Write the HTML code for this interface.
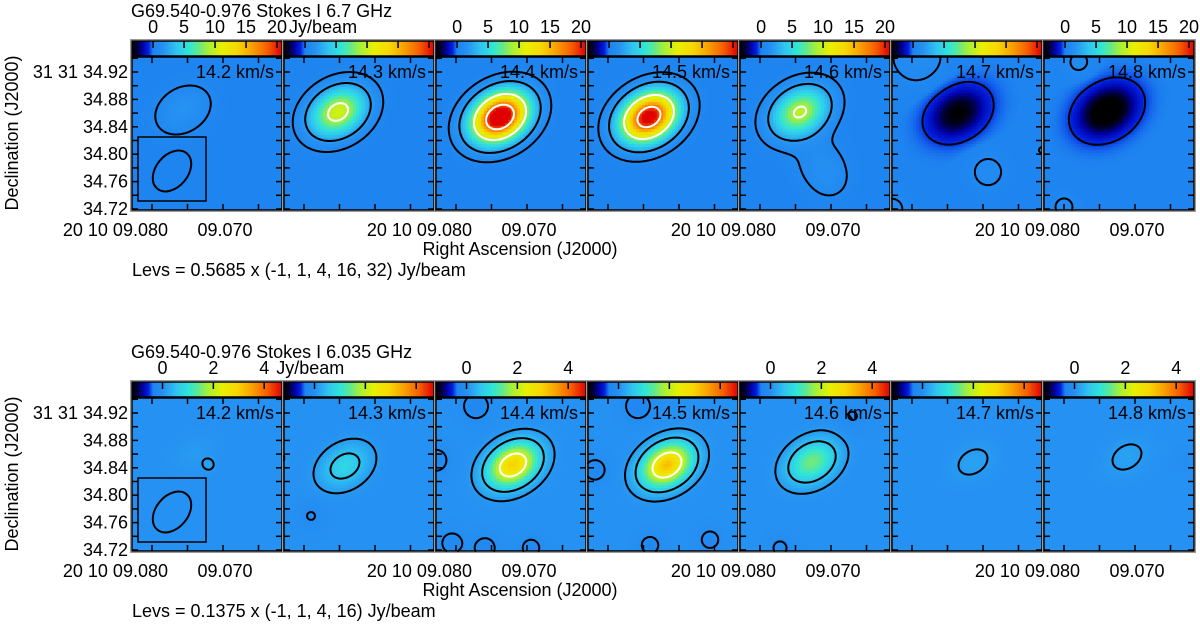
<!DOCTYPE html>
<html><head><meta charset="utf-8">
<style>
html,body{margin:0;padding:0;background:#fff;}
#wrap{position:relative;width:1200px;height:624px;overflow:hidden;}
canvas,svg{position:absolute;left:0;top:0;}
text{font-family:"Liberation Sans",Arial,sans-serif;fill:#000;}
</style></head>
<body>
<div id="wrap">
<canvas id="cv" width="1200" height="624"></canvas>
<svg id="sv" width="1200" height="624" xmlns="http://www.w3.org/2000/svg"></svg>
</div>
<script>
// ---------- data ----------
const velocities = ["14.2","14.3","14.4","14.5","14.6","14.7","14.8"];
// top row (6.7 GHz) main component: peak Jy/beam, RA seconds, Dec arcsec
const topPeak = [1.7, 10.5, 24, 22, 9.6, -3.5, -4.5];
const topRA   = [9.07563, 9.07521, 9.07380, 9.07423, 9.07437, 9.07352, 9.07394];
const topDec  = [34.8645, 34.8616, 34.8543, 34.8543, 34.8616, 34.8600, 34.8630];
// extra features top
const topExtraPanel = [4, 4, 5, 5, 5, 5, 6, 6];
const topExtraRA    = [9.07155, 9.07000, 9.06930, 9.0793, 9.0828, 9.06169, 9.0800, 9.0779];
const topExtraDec   = [34.7886, 34.7600, 34.7740, 34.9420, 34.7200, 34.8060, 34.7230, 34.9346];
const topExtraAmp   = [1.0, 0.7, 0.9, 1.1, 0.8, 0.7, 0.8, 0.8];
const topExtraSig   = [26, 20, 20, 30, 18, 7, 15, 15];
// bottom row (6.035 GHz)
const botPeak = [0.12, 0.8, 3.0, 3.2, 1.5, 0.2, 0.2];
const botRA   = [9.07408, 9.07423, 9.07197, 9.07169, 9.07268, 9.07141, 9.07113];
const botDec  = [34.8600, 34.8426, 34.8441, 34.8441, 34.8485, 34.8485, 34.8558];
const botExtraPanel = [0, 1, 2, 2, 2, 2, 2, 3, 3, 3, 3, 4, 4, 1, 6];
const botExtraRA    = [9.07197, 9.08394, 9.07718, 9.08056, 9.07592, 9.06944, 9.08282, 9.07577, 9.08183, 9.07408, 9.06563, 9.06700, 9.07718, 9.07900, 9.06300];
const botExtraDec   = [34.8440, 34.8540, 34.9300, 34.7300, 34.7230, 34.7230, 34.8510, 34.9300, 34.8370, 34.7270, 34.7350, 34.9150, 34.7230, 34.7700, 34.8500];
const botExtraAmp   = [0.17, 0.2, -0.3, -0.25, -0.25, -0.25, -0.25, -0.3, -0.25, -0.25, -0.25, -0.15, -0.2, -0.15, -0.1];
const botExtraSig   = [7, 14, 14, 13, 13, 11, 14, 14, 13, 11, 11, 18, 11, 15, 10];
const topLevelsMult = [-1, 1, 4, 16, 32];
const botLevelsMult = [-1, 1, 4, 16];
const topLevBase = 0.5685, botLevBase = 0.1375;
const topCbarTicks = [0, 5, 10, 15, 20];
const botCbarTicks = [0, 2, 4];
const topCbarRange = [-3.4, 20.8];
const botCbarRange = [-1.2, 4.7];
const decTicks = [34.92, 34.88, 34.84, 34.80, 34.76, 34.72];

// ---------- geometry ----------
const PX0 = 132, PITCH = 152, PW = 150, PH = 153, FS = 18;
const rows = [{y0:57, cb:41}, {y0:398, cb:382}];
function xOfRA(ra){ return 20 + (9.080 - ra) * 7100; }
function yOfDec(d){ return 152 - (d - 34.72) * 685; }
const ANG = -32 * Math.PI / 180;

const stops = [[0,"#000000"],[0.04,"#000040"],[0.07,"#0000a0"],[0.11,"#0020e0"],[0.14,"#1e84f0"],[0.21,"#2692f2"],[0.3,"#30c6f0"],[0.38,"#30e6d8"],[0.44,"#60e890"],[0.5,"#a0f040"],[0.6,"#e8f000"],[0.7,"#f8d800"],[0.8,"#f8a000"],[0.9,"#f86000"],[1,"#e00000"]];
function hex(h){return [parseInt(h.substr(1,2),16),parseInt(h.substr(3,2),16),parseInt(h.substr(5,2),16)];}
function cmap(t){
  t=Math.max(0,Math.min(1,t));
  for(let i=1;i<stops.length;i++){ if(t<=stops[i][0]){ const a=hex(stops[i-1][1]),b=hex(stops[i][1]); const f=(t-stops[i-1][0])/(stops[i][0]-stops[i-1][0]); return `rgb(${Math.round(a[0]+(b[0]-a[0])*f)},${Math.round(a[1]+(b[1]-a[1])*f)},${Math.round(a[2]+(b[2]-a[2])*f)})`; } }
  return stops[stops.length-1][1];
}
function gauss(u,v,amp,cx,cy,sx,sy,ang){
  const dx=u-cx, dy=v-cy, c=Math.cos(ang), s=Math.sin(ang);
  const a=dx*c+dy*s, b=-dx*s+dy*c;
  return amp*Math.exp(-0.5*(a*a/(sx*sx)+b*b/(sy*sy)));
}
function field(row, p, u, v){
  const peak=row?botPeak:topPeak, ra=row?botRA:topRA, de=row?botDec:topDec;
  let val = gauss(u,v,peak[p],xOfRA(ra[p]),yOfDec(de[p]),row?18:20,row?13:15,ANG);
  const ep=row?botExtraPanel:topExtraPanel, er=row?botExtraRA:topExtraRA, ed=row?botExtraDec:topExtraDec, ea=row?botExtraAmp:topExtraAmp, es=row?botExtraSig:topExtraSig;
  for(let k=0;k<ep.length;k++){ if(ep[k]!==p) continue; const s=es[k]*0.685; val+=gauss(u,v,ea[k],xOfRA(er[k]),yOfDec(ed[k]),s,s,0); }
  return val;
}

const cv=document.getElementById('cv'), ctx=cv.getContext('2d');
const sv=document.getElementById('sv'), NS="http://www.w3.org/2000/svg";
function el(tag, attrs, parent, txt){ const e=document.createElementNS(NS,tag); for(const k in attrs) e.setAttribute(k,attrs[k]); if(txt!==undefined) e.textContent=txt; (parent||sv).appendChild(e); return e; }

function contourPath(row,p,x0,y0,L){
  const st=1.5, nx=Math.round(PW/st), ny=Math.round(PH/st);
  const g=[]; for(let j=0;j<=ny;j++){ g[j]=[]; for(let i=0;i<=nx;i++) g[j][i]=field(row,p,i*st,j*st); }
  let d="";
  const lerp=(va,vb)=>(L-va)/(vb-va);
  for(let j=0;j<ny;j++) for(let i=0;i<nx;i++){
    const a=g[j][i], b=g[j][i+1], c=g[j+1][i+1], dd=g[j+1][i];
    const idx=(a>L?8:0)|(b>L?4:0)|(c>L?2:0)|(dd>L?1:0);
    if(idx===0||idx===15) continue;
    const X=x0+i*st, Y=y0+j*st;
    const T=[X+lerp(a,b)*st, Y], R=[X+st, Y+lerp(b,c)*st], B=[X+lerp(dd,c)*st, Y+st], Lf=[X, Y+lerp(a,dd)*st];
    const segs={1:[[Lf,B]],2:[[B,R]],3:[[Lf,R]],4:[[T,R]],5:[[T,Lf],[B,R]],6:[[T,B]],7:[[T,Lf]],8:[[T,Lf]],9:[[T,B]],10:[[T,R],[Lf,B]],11:[[T,R]],12:[[Lf,R]],13:[[B,R]],14:[[Lf,B]]}[idx];
    for(const s of segs) d+=`M${s[0][0].toFixed(1)} ${s[0][1].toFixed(1)}L${s[1][0].toFixed(1)} ${s[1][1].toFixed(1)}`;
  }
  return d;
}

// titles
el('text',{x:131,y:17,'font-size':FS,},sv,'G69.540-0.976 Stokes I 6.7 GHz');
el('text',{x:131,y:358,'font-size':FS,},sv,'G69.540-0.976 Stokes I 6.035 GHz');

[0,1].forEach(row=>{
  const R=rows[row], y0=R.y0, off=y0-57;
  const range=row?botCbarRange:topCbarRange, ticks=row?botCbarTicks:topCbarTicks;
  const levs=(row?botLevelsMult:topLevelsMult).map(m=>m*(row?botLevBase:topLevBase));
  for(let p=0;p<7;p++){
    const x0=PX0+p*PITCH;
    const g=el('g',{},sv);
    
    
    for(let j=0;j<PH;j+=3) for(let i=0;i<PW;i+=3){
      const v=field(row,p,i+1.5,j+1.5);
      ctx.fillStyle=cmap((v-range[0])/(range[1]-range[0]));
      ctx.fillRect(x0+i,y0+j,3,Math.min(3,PH-j));
    }
    for(let i=0;i<PW;i++){ ctx.fillStyle=cmap((i+0.5)/PW); ctx.fillRect(x0+i,R.cb,1,15); }
    const cbr=el('rect',{x:x0,y:R.cb,width:PW,height:15,fill:'none',stroke:'#000','stroke-width':1.5},g);
    
    
    ticks.forEach(t=>{
      const tx=x0+(t-range[0])/(range[1]-range[0])*PW;
      el('line',{x1:tx,x2:tx,y1:R.cb,y2:R.cb+7,stroke:'#000','stroke-width':1.5},g);
      if(p%2===0){ const tl=el('text',{x:tx,y:R.cb-8,'font-size':FS,'text-anchor':'middle'},g,String(t));   }
    });
    if(p===0){ const u=el('text',{x:x0+(ticks[ticks.length-1]-range[0])/(range[1]-range[0])*PW+12,y:R.cb-8,'font-size':FS},g,'Jy/beam');   }
    const cg=el('g',{},g);
    
    
    levs.forEach((L,k)=>{
      const m=(row?botLevelsMult:topLevelsMult)[k];
      const d=contourPath(row,p,x0,y0,L);
      if(d){ const pa=el('path',{d:d,fill:'none',stroke:m>=16?'#fff':'#000','stroke-width':2,'stroke-linecap':'round'},cg);   }
    });
    el('rect',{x:x0,y:y0,width:PW,height:PH,fill:'none',stroke:'#000','stroke-width':1.5},g);
    el('rect',{x:x0-1.5,y:R.cb-1.5,width:PW+3,height:PH+(y0-R.cb)+3,fill:'none',stroke:'#999','stroke-width':1},g);
    for(let d=34.72; d<=34.9401; d+=0.02){
      const ty=y0+yOfDec(d);
      if(ty<y0+1||ty>y0+PH-1) continue;
      el('line',{x1:x0,x2:x0+6,y1:ty,y2:ty,stroke:'#000','stroke-width':1.5},g);
      el('line',{x1:x0+PW-6,x2:x0+PW,y1:ty,y2:ty,stroke:'#000','stroke-width':1.5},g);
    }
    [9.080,9.075,9.070,9.065].forEach(ra=>{
      const tx=x0+xOfRA(ra);
      el('line',{x1:tx,x2:tx,y1:y0+PH,y2:y0+PH-6,stroke:'#000','stroke-width':1.5},g);
      el('line',{x1:tx,x2:tx,y1:y0,y2:y0+6,stroke:'#000','stroke-width':1.5},g);
    });
    const vl=el('text',{x:x0+PW-8,y:y0+21,'font-size':FS,'text-anchor':'end'},g,velocities[p]+' km/s');
    
    
    if(p%2===0){
      const a=el('text',{x:x0+xOfRA(9.080)+16,y:y0+179,'font-size':FS,'text-anchor':'end'},g,'20 10 09.080');
      
      
      const b=el('text',{x:x0+xOfRA(9.070)+2,y:y0+179,'font-size':FS,'text-anchor':'middle'},g,'09.070');
      
      
    }
    if(p===0){
      el('rect',{x:x0+6,y:y0+80,width:68,height:64,fill:'none',stroke:'#000','stroke-width':1.5},g);
      const bm=el('ellipse',{cx:0,cy:0,rx:23,ry:16,fill:'none',stroke:'#000','stroke-width':2,transform:`translate(${x0+40},${y0+114}) rotate(-50)`},g);
      
      
    }
  }
  decTicks.forEach((d,k)=>{
    const t=el('text',{x:128,y:y0+yOfDec(d)+6,'font-size':FS,'text-anchor':'end'},sv,(k===0?'31 31 ':'')+d.toFixed(2));
    
    
  });
  const yt=el('text',{x:0,y:0,'font-size':FS,'text-anchor':'middle',transform:`translate(18,${133+off}) rotate(-90)`},sv,'Declination (J2000)');
  
  
  const xt=el('text',{x:520,y:255+off,'font-size':FS,'text-anchor':'middle'},sv,'Right Ascension (J2000)');
  
  
  const lv=el('text',{x:132,y:276+off,'font-size':FS},sv,row?'Levs = 0.1375 x (-1, 1, 4, 16) Jy/beam':'Levs = 0.5685 x (-1, 1, 4, 16, 32) Jy/beam');
  
  
});
</script>
</body></html>
